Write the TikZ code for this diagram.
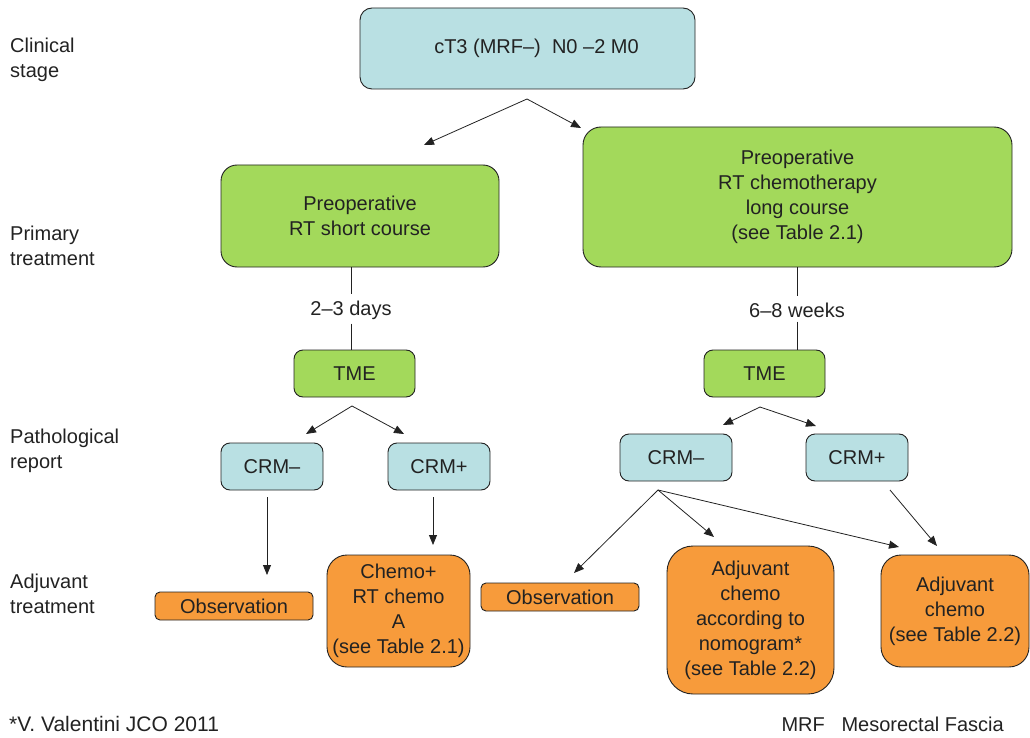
\documentclass[tikz,border=0pt]{standalone}
\usepackage{fontspec}
\setmainfont{Liberation Sans}
\usetikzlibrary{arrows.meta}
\definecolor{boxblue}{HTML}{B9E0E3}
\definecolor{boxgreen}{HTML}{A3D95B}
\definecolor{boxorange}{HTML}{F79B3B}
\definecolor{ink}{HTML}{222222}
\tikzset{
  base/.style={draw=ink, line width=0.9pt, text=ink, align=center, inner sep=0pt,
    font=\fontsize{20}{25}\selectfont},
  bluebox/.style={base, fill=boxblue},
  greenbox/.style={base, fill=boxgreen},
  orangebox/.style={base, fill=boxorange},
  txt/.style={text=ink, align=left, inner sep=0pt, font=\fontsize{20}{25}\selectfont},
  arr/.style={draw=ink, line width=0.8pt, -{Triangle[length=10pt,width=8pt]}},
  plain/.style={draw=ink, line width=0.8pt},
}
\begin{document}
\begin{tikzpicture}[x=1pt,y=-1pt]
\useasboundingbox (0,0) rectangle (1030,738);

% row labels
\node[txt, anchor=west] (lab1) at (10,60) {Clinical\\stage};
\node[txt, anchor=west] (lab2) at (10,246) {Primary\\treatment};
\node[txt, anchor=west] (lab3) at (10,451) {Pathological\\report};
\node[txt, anchor=west] (lab4) at (10,594) {Adjuvant\\treatment};

% clinical stage
\node[bluebox, rounded corners=12pt, minimum width=335pt, minimum height=81pt] (top) at (527.5,48.5) {\hspace*{18pt}cT3 (MRF–)\ \ N0 –2 M0};

% primary treatment
\node[greenbox, rounded corners=16pt, minimum width=278pt, minimum height=102pt] (gL) at (360,216) {Preoperative\\RT short course};
\node[greenbox, rounded corners=18pt, minimum width=429pt, minimum height=140pt] (gR) at (797.5,197) {Preoperative\\RT chemotherapy\\long course\\(see Table 2.1)};

\coordinate (s0) at (527,99);
\coordinate (t0L) at (424,145);
\coordinate (t0R) at (581,128);
\draw[arr] (s0) -- (t0L);
\draw[arr] (s0) -- (t0R);

% intervals
\node[txt, align=center] (dL) at (351,310) {2–3 days};
\node[txt, align=center] (dR) at (797,310) {6–8 weeks};

\node[greenbox, rounded corners=9pt, minimum width=121pt, minimum height=47pt] (tmeL) at (354.5,373.5) {TME};
\node[greenbox, rounded corners=9pt, minimum width=121pt, minimum height=47pt] (tmeR) at (764.5,373.5) {TME};

\draw[plain] (dL.north |- gL.south) -- ([yshift=6pt]dL.north);
\draw[plain] ([yshift=-4pt]dL.south) -- (dL.south |- tmeL.north);
\draw[plain] (dR.north |- gR.south) -- ([yshift=6pt]dR.north);
\draw[plain] ([yshift=-4pt]dR.south) -- (dR.south |- tmeR.north);

% pathological report
\node[bluebox, rounded corners=9pt, minimum width=102pt, minimum height=47pt] (cmL) at (272,466.5) {CRM–};
\node[bluebox, rounded corners=9pt, minimum width=102pt, minimum height=47pt] (cpL) at (439,466.5) {CRM+};
\node[bluebox, rounded corners=9pt, minimum width=112pt, minimum height=47pt] (cmR) at (676,457.5) {CRM–};
\node[bluebox, rounded corners=9pt, minimum width=102pt, minimum height=47pt] (cpR) at (857,457.5) {CRM+};

\coordinate (s1) at (352,406);
\coordinate (t1L) at (306,434);
\coordinate (t1R) at (404,434);
\draw[arr] (s1) -- (t1L);
\draw[arr] (s1) -- (t1R);

\coordinate (s2) at (760,407);
\coordinate (t2L) at (723,425);
\coordinate (t2R) at (816,426);
\draw[arr] (s2) -- (t2L);
\draw[arr] (s2) -- (t2R);

% adjuvant treatment
\node[orangebox, rounded corners=5pt, minimum width=158pt, minimum height=28pt] (obsL) at (234,606) {Observation};
\node[orangebox, rounded corners=20pt, minimum width=143pt, minimum height=112pt] (chemoL) at (398.5,611) {Chemo+\\RT chemo\\A\\(see Table 2.1)};
\node[orangebox, rounded corners=5pt, minimum width=158pt, minimum height=28pt] (obsR) at (560,597) {Observation};
\node[orangebox, rounded corners=26pt, minimum width=167pt, minimum height=148pt] (nomo) at (750.5,620) {Adjuvant\\chemo\\according to\\nomogram*\\(see Table 2.2)};
\node[orangebox, rounded corners=20pt, minimum width=148pt, minimum height=112pt] (adjR) at (955,611) {Adjuvant\\chemo\\(see Table 2.2)};

\coordinate (s3) at (267,497);
\coordinate (t3) at (267,575);
\draw[arr] (s3) -- (t3);
\coordinate (s4) at (433,497);
\coordinate (t4) at (433,545);
\draw[arr] (s4) -- (t4);

\coordinate (s5) at (658,490);
\coordinate (t5a) at (574,573);
\coordinate (t5b) at (714,537);
\coordinate (t5c) at (899,547);
\draw[arr] (s5) -- (t5a);
\draw[arr] (s5) -- (t5b);
\draw[arr] (s5) -- (t5c);

\coordinate (s6) at (890,490);
\coordinate (t6) at (937,546);
\draw[arr] (s6) -- (t6);

% footnotes
\node[txt, anchor=west, font=\fontsize{21}{25}\selectfont] (ref) at (9,724) {*V. Valentini JCO 2011};
\node[txt, anchor=east, font=\fontsize{20}{25}\selectfont] (abbr) at (1004,724) {MRF\ \ \ Mesorectal Fascia};
\end{tikzpicture}
\end{document}
